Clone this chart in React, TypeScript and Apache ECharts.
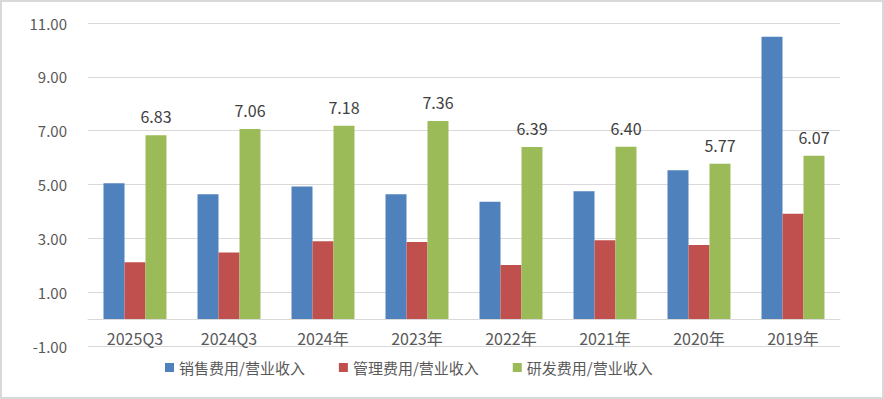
import React, { useEffect, useRef } from "react";
import * as echarts from "echarts";

const categories = ["2025Q3", "2024Q3", "2024年", "2023年", "2022年", "2021年", "2020年", "2019年"];
const salesRatio = [5.05, 4.64, 4.93, 4.64, 4.36, 4.75, 5.53, 10.49];
const adminRatio = [2.11, 2.47, 2.89, 2.86, 2.01, 2.93, 2.75, 3.91];
const rdRatio = [6.83, 7.06, 7.18, 7.36, 6.39, 6.4, 5.77, 6.07];
const seriesNames = ["销售费用/营业收入", "管理费用/营业收入", "研发费用/营业收入"];

const FONT = "'Noto Sans CJK SC', 'Noto Sans', sans-serif";

export default function App() {
  const ref = useRef<HTMLDivElement>(null);
  useEffect(() => {
    document.body.style.margin = "0";
    const chart = echarts.init(ref.current!, undefined, { renderer: "svg" });
    chart.setOption({
      animation: false,
      backgroundColor: "#ffffff",
      textStyle: { fontFamily: FONT },
      color: ["#4F81BD", "#C0504D", "#9BBB59"],
      grid: { left: 86, right: 42, top: 21, bottom: 51, containLabel: false },
      legend: {
        data: seriesNames,
        top: 353,
        left: 158,
        itemWidth: 9,
        itemHeight: 9,
        itemGap: 34,
        icon: "rect",
        textStyle: { fontSize: 15, color: "#595959", fontFamily: FONT },
      },
      xAxis: {
        type: "category",
        data: categories,
        axisLine: { onZero: true, lineStyle: { color: "#d9d9d9", width: 1 } },
        axisTick: { show: false },
        axisLabel: { fontSize: 16, color: "#595959", margin: -16, fontFamily: FONT },
      },
      yAxis: {
        type: "value",
        min: -1,
        max: 11,
        interval: 2,
        axisLine: { show: false },
        axisTick: { show: false },
        splitLine: { lineStyle: { color: "#d9d9d9", width: 1 } },
        axisLabel: {
          fontSize: 15,
          color: "#595959",
          margin: 21,
          fontFamily: FONT,
          formatter: (v: number) => v.toFixed(2),
        },
      },
      series: [
        {
          name: seriesNames[0],
          type: "bar",
          data: salesRatio,
          barGap: "0%",
          barCategoryGap: "33%",
        },
        {
          name: seriesNames[1],
          type: "bar",
          data: adminRatio,
          barGap: "0%",
          barCategoryGap: "33%",
        },
        {
          name: seriesNames[2],
          type: "bar",
          data: rdRatio,
          barGap: "0%",
          barCategoryGap: "33%",
          label: {
            show: true,
            position: "top",
            distance: 11,
            fontSize: 16,
            color: "#404040",
            fontFamily: FONT,
            formatter: (p: any) => Number(p.value).toFixed(2),
          },
        },
      ],
    });
    return () => chart.dispose();
  }, []);
  return (
    <div
      ref={ref}
      style={{
        position: "absolute",
        left: 0,
        top: 0,
        width: 884,
        height: 399,
        boxSizing: "border-box",
        border: "2px solid #d9d9d9",
      }}
    />
  );
}
